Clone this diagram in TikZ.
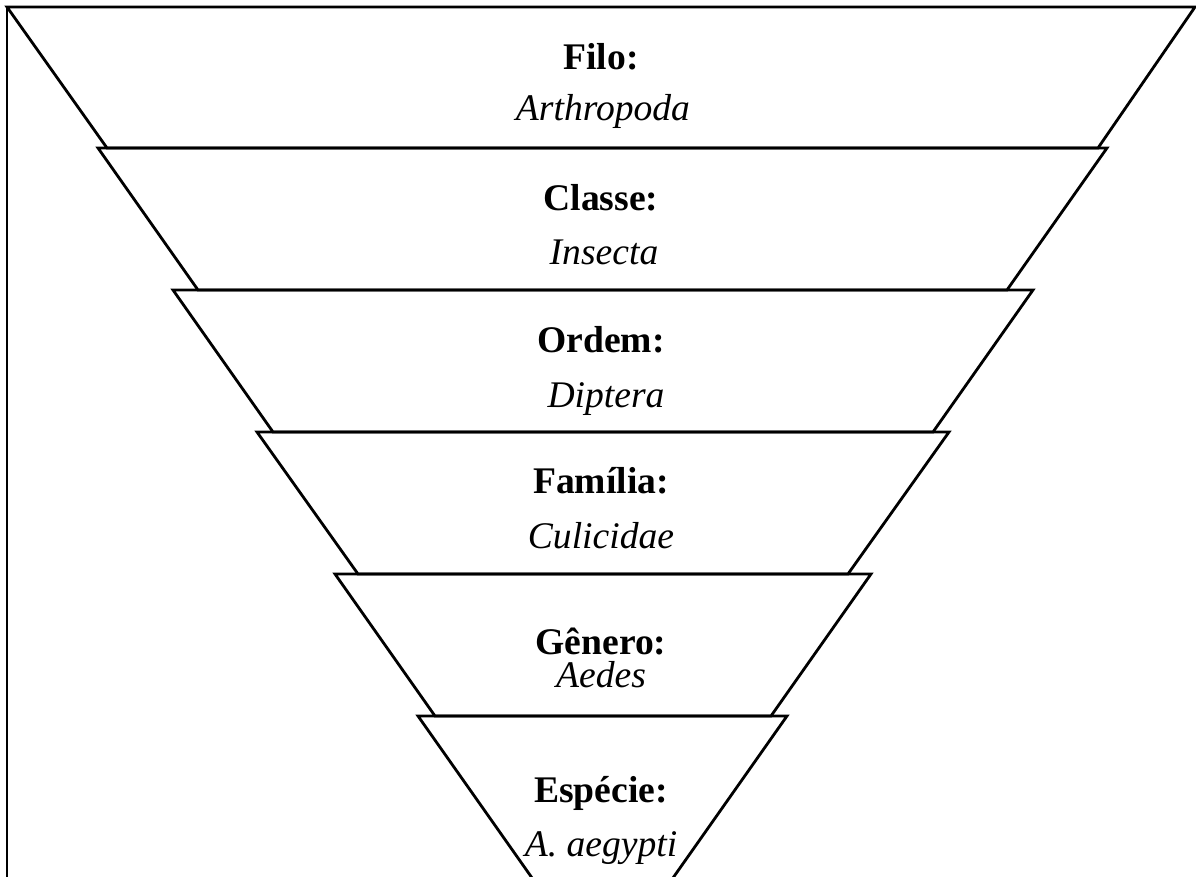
\documentclass[tikz,border=0pt]{standalone}
\usepackage{fontspec}
\setmainfont{Liberation Serif}
\begin{document}
\begin{tikzpicture}[x=0.5pt,y=-0.5pt,
  layer/.style={draw=black, line width=1.4pt, line join=miter},
  frameline/.style={draw=black, line width=1.4pt},
  rank/.style={font=\fontsize{18.8}{22}\selectfont\bfseries, anchor=base, inner sep=0pt},
  taxon/.style={font=\fontsize{18.8}{22}\selectfont\itshape, anchor=base, inner sep=0pt}]
\useasboundingbox (0,0) rectangle (1196,877);
\clip (0,0) rectangle (1196,877);

% cell border (left and top)
\coordinate (fTL) at (7,7);
\coordinate (fBL) at (7,890);
\coordinate (fTR) at (1200,7);
\draw[frameline] (fBL) -- (fTL) -- (fTR);

% funnel layers, widest at the top
\draw[layer] (7,7) -- (1195,7) -- (1098,148) -- (107,148) -- cycle;
\draw[layer] (98,148) -- (1107,148) -- (1007,290) -- (198,290) -- cycle;
\draw[layer] (173,290) -- (1033,290) -- (933,432) -- (273,432) -- cycle;
\draw[layer] (257,432) -- (949,432) -- (848,574) -- (358,574) -- cycle;
\draw[layer] (335,574) -- (871,574) -- (771,716) -- (435,716) -- cycle;
\draw[layer] (418,716) -- (787,716) -- (602.5,978) -- cycle;

% labels
\node[rank]  (filo)    at (601,70)  {Filo:};
\node[taxon] (arthro)  at (603,121) {Arthropoda};
\node[rank]  (classe)  at (601,211) {Classe:};
\node[taxon] (insecta) at (604,265) {Insecta};
\node[rank]  (ordem)   at (601,353) {Ordem:};
\node[taxon] (diptera) at (606,408) {Diptera};
\node[rank]  (familia) at (601,494) {Família:};
\node[taxon] (culic)   at (601,549) {Culicidae};
\node[rank]  (genero)  at (601,654) {Gênero:};
\node[taxon] (aedes)   at (601,688) {Aedes};
\node[rank]  (especie) at (601,802) {Espécie:};
\node[taxon] (aegypti) at (601,856) {A. aegypti};
\end{tikzpicture}
\end{document}
